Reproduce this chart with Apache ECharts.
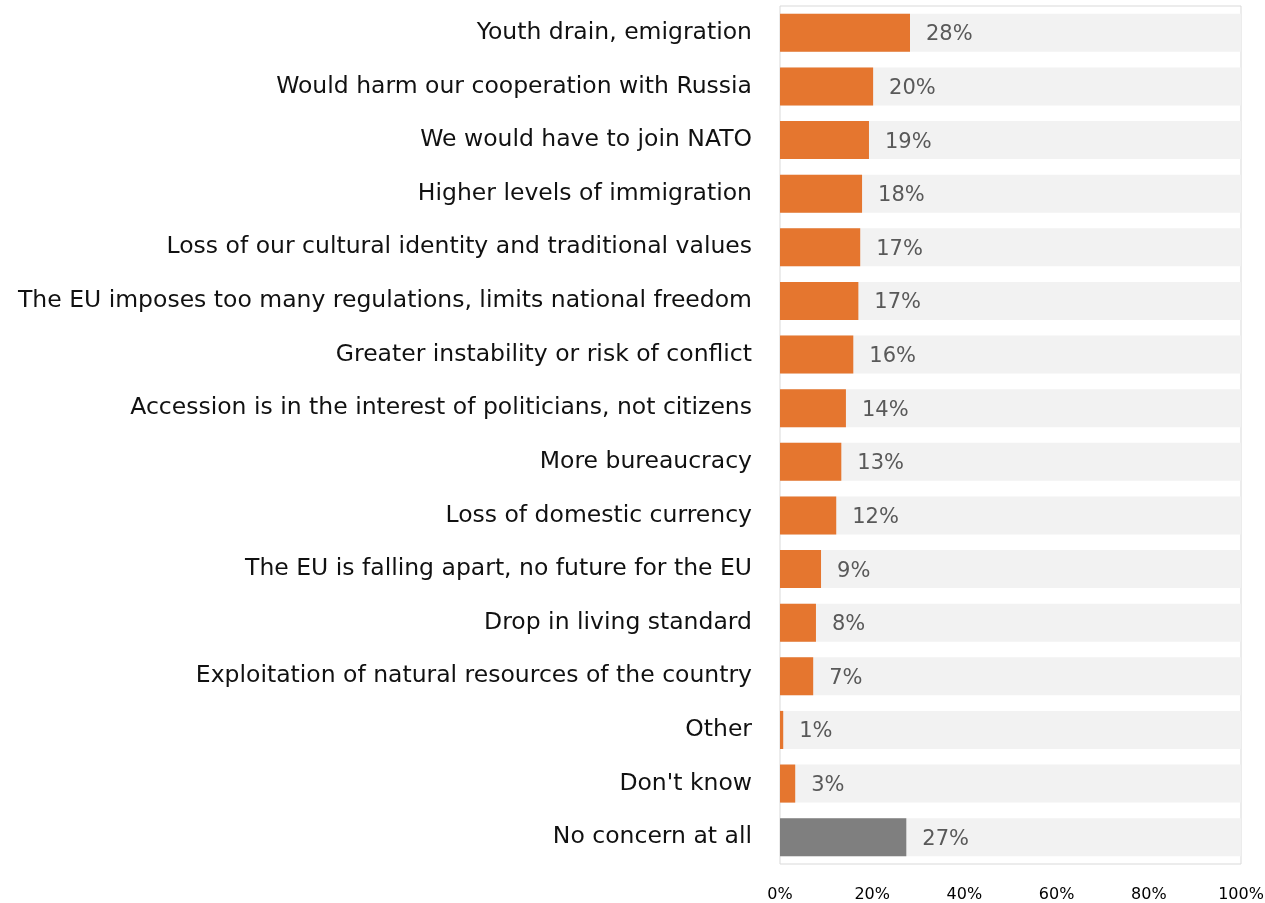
<!DOCTYPE html>
<html><head><meta charset="utf-8">
<script src="https://cdn.jsdelivr.net/npm/echarts@6/dist/echarts.min.js"></script>
<style>html,body{margin:0;padding:0;background:#fff}#c{width:1265px;height:903px}</style>
</head><body><div id="c"></div>
<script>
const categories = [
  "Youth drain, emigration",
  "Would harm our cooperation with Russia",
  "We would have to join NATO",
  "Higher levels of immigration",
  "Loss of our cultural identity and traditional values",
  "The EU imposes too many regulations, limits national freedom",
  "Greater instability or risk of conflict",
  "Accession is in the interest of politicians, not citizens",
  "More bureaucracy",
  "Loss of domestic currency",
  "The EU is falling apart, no future for the EU",
  "Drop in living standard",
  "Exploitation of natural resources of the country",
  "Other",
  "Don't know",
  "No concern at all"
];
const values = [28.2, 20.2, 19.3, 17.8, 17.4, 17.0, 15.9, 14.3, 13.3, 12.2, 8.9, 7.8, 7.2, 0.7, 3.3, 27.4];
const shownLabels = [28, 20, 19, 18, 17, 17, 16, 14, 13, 12, 9, 8, 7, 1, 3, 27];
const xTicks = [0, 20, 40, 60, 80, 100];
const grayCategory = "No concern at all";

const FONT = "DejaVu Sans";
const chart = echarts.init(document.getElementById('c'), null, {renderer: 'canvas'});
chart.setOption({
  animation: false,
  grid: {left: 780, right: 24, top: 6, bottom: 39, outerBoundsMode: 'none', containLabel: false,
         show: true, borderColor: '#d9d9d9', borderWidth: 1, backgroundColor: 'transparent'},
  xAxis: {
    type: 'value', min: xTicks[0], max: xTicks[xTicks.length - 1], interval: 20,
    axisLine: {show: false}, axisTick: {show: false}, splitLine: {show: false},
    axisLabel: {formatter: '{value}%', color: '#000', fontSize: 16, fontFamily: FONT, margin: 23}
  },
  yAxis: {
    type: 'category', data: categories, inverse: true,
    axisLine: {show: false}, axisTick: {show: false},
    axisLabel: {color: '#111', fontSize: 23.5, fontFamily: FONT, margin: 28}
  },
  series: [{
    type: 'bar',
    barCategoryGap: '29%',
    showBackground: true,
    backgroundStyle: {color: '#f2f2f2'},
    data: values.map((v, i) => ({
      value: v,
      itemStyle: {color: categories[i] === grayCategory ? '#7f7f7f' : '#e5762f'}
    })),
    label: {
      show: true, position: 'right', distance: 16, offset: [0, 2],
      color: '#595959', fontSize: 21, fontFamily: FONT,
      formatter: p => shownLabels[p.dataIndex] + '%'
    }
  }]
});
</script></body></html>
